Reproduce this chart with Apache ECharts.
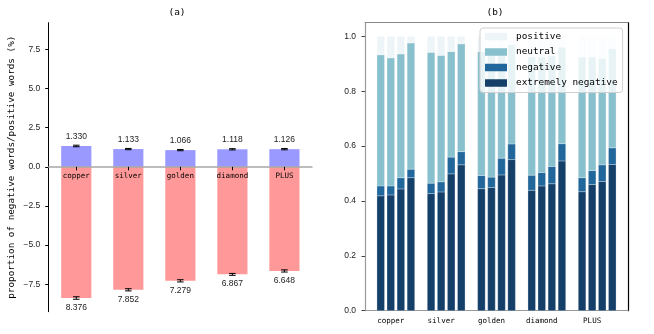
<!DOCTYPE html>
<html>
<head>
<meta charset="utf-8">
<script src="https://cdn.jsdelivr.net/npm/echarts@6/dist/echarts.min.js"></script>
<style>
  html, body { margin: 0; padding: 0; background: #fff; }
  #main { width: 654px; height: 334px; }
</style>
</head>
<body>
<div id="main"></div>
<script>
// categories (member levels)
var levels = ['copper', 'silver', 'golden', 'diamond', 'PLUS'];

// (a) proportion of words, positive above zero, negative below
var posWords = [1.330, 1.133, 1.066, 1.118, 1.126];
var posErr = [0.05, 0.04, 0.04, 0.04, 0.04];
var negWords = [-8.376, -7.852, -7.279, -6.867, -6.648];
var negErr = [0.08, 0.07, 0.07, 0.06, 0.07];
var aTicks = [-7.5, -5, -2.5, 0, 2.5, 5, 7.5];

// (b) share of each sentiment, 4 bars per level
var extremeNeg = [
  [0.419, 0.422, 0.444, 0.485],
  [0.427, 0.433, 0.499, 0.532],
  [0.445, 0.449, 0.495, 0.551],
  [0.439, 0.455, 0.463, 0.546],
  [0.434, 0.460, 0.471, 0.533]
];
var negative = [
  [0.036, 0.033, 0.041, 0.031],
  [0.038, 0.037, 0.061, 0.048],
  [0.048, 0.038, 0.061, 0.057],
  [0.055, 0.049, 0.063, 0.063],
  [0.051, 0.051, 0.061, 0.061]
];
var neutral = [
  [0.478, 0.467, 0.451, 0.460],
  [0.477, 0.461, 0.385, 0.393],
  [0.452, 0.448, 0.384, 0.362],
  [0.431, 0.421, 0.404, 0.352],
  [0.440, 0.414, 0.388, 0.361]
];
var positive = [
  [0.067, 0.078, 0.064, 0.024],
  [0.058, 0.069, 0.055, 0.027],
  [0.055, 0.065, 0.060, 0.030],
  [0.075, 0.075, 0.070, 0.039],
  [0.075, 0.075, 0.080, 0.045]
];
var bTicks = [0, 0.2, 0.4, 0.6, 0.8, 1.0];

var MONO = 'DejaVu Sans Mono';
var SANS = 'Liberation Sans';
var barOffset = [-0.2, 0, 0.2, 0.4];
var halfW = 0.075;

// left panel y range, the x axis sits on zero
var aMin = -9.25, aMax = 9.2, aHeight = 289;
var zeroOffset = -aHeight * (0 - aMin) / (aMax - aMin);

var chart = echarts.init(document.getElementById('main'));

// (a) bar with error bar and value label
function wordBar(color, below) {
  return function (params, api) {
    var x = api.value(0), v = api.value(1), e = api.value(2);
    var p0 = api.coord([x - 0.29, v]);
    var p1 = api.coord([x + 0.29, 0]);
    var cx = api.coord([x, v])[0];
    var yHi = api.coord([x, v + e])[1];
    var yLo = api.coord([x, v - e])[1];
    var capW = 3.3;
    var ly = below ? yLo + 8.5 : yHi - 9;
    return {
      type: 'group',
      children: [
        { type: 'rect', shape: { x: p0[0], y: Math.min(p0[1], p1[1]), width: p1[0] - p0[0], height: Math.abs(p1[1] - p0[1]) },
          style: { fill: color } },
        { type: 'line', shape: { x1: cx, y1: yHi, x2: cx, y2: yLo }, style: { stroke: '#000', lineWidth: 1 } },
        { type: 'line', shape: { x1: cx - capW, y1: yHi, x2: cx + capW, y2: yHi }, style: { stroke: '#000', lineWidth: 1 } },
        { type: 'line', shape: { x1: cx - capW, y1: yLo, x2: cx + capW, y2: yLo }, style: { stroke: '#000', lineWidth: 1 } },
        { type: 'text', style: { text: Math.abs(v).toFixed(3), x: cx, y: ly, align: 'center', verticalAlign: 'middle',
            textAlign: 'center', textVerticalAlign: 'middle', fontFamily: SANS, fontSize: 8.5, fill: '#222' } }
      ]
    };
  };
}

// (b) stacked segment
function segment(params, api) {
  var x = api.value(0), lo = api.value(1), hi = api.value(2);
  var p0 = api.coord([x - halfW, hi]);
  var p1 = api.coord([x + halfW, lo]);
  return {
    type: 'rect',
    shape: { x: p0[0], y: p0[1], width: p1[0] - p0[0], height: p1[1] - p0[1] },
    style: { fill: api.visual('color'), stroke: 'rgba(255,255,255,0.45)', lineWidth: 0.6 }
  };
}

var layers = [
  { name: 'extremely negative', vals: extremeNeg, color: '#133f69' },
  { name: 'negative', vals: negative, color: '#22679b' },
  { name: 'neutral', vals: neutral, color: '#89c0cd' },
  { name: 'positive', vals: positive, color: '#eef5f9' }
];
var base = levels.map(function () { return [0, 0, 0, 0]; });
var stackSeries = layers.map(function (layer) {
  var data = [];
  for (var g = 0; g < levels.length; g++) {
    for (var k = 0; k < 4; k++) {
      var lo = base[g][k];
      var hi = lo + layer.vals[g][k];
      base[g][k] = hi;
      data.push([g + barOffset[k], lo, hi]);
    }
  }
  return {
    name: layer.name,
    type: 'custom',
    xAxisIndex: 1,
    yAxisIndex: 1,
    itemStyle: { color: layer.color },
    renderItem: segment,
    encode: { x: 0, y: [1, 2] },
    data: data
  };
});

var option = {
  animation: false,
  graphic: [
    { type: 'text', x: 177, y: 13, style: { text: '(a)', align: 'center', verticalAlign: 'middle', textAlign: 'center',
        textVerticalAlign: 'middle', fontFamily: MONO, fontSize: 9.5, fill: '#000' } },
    { type: 'text', x: 495, y: 13, style: { text: '(b)', align: 'center', verticalAlign: 'middle', textAlign: 'center',
        textVerticalAlign: 'middle', fontFamily: MONO, fontSize: 9.5, fill: '#000' } }
  ],
  legend: {
    orient: 'vertical',
    left: 480,
    top: 28,
    data: ['positive', 'neutral', 'negative', 'extremely negative'],
    icon: 'rect',
    itemWidth: 22,
    itemHeight: 7.5,
    itemGap: 4.5,
    padding: [3, 5, 4, 5],
    backgroundColor: 'rgba(255,255,255,0.8)',
    borderColor: '#d0d0d0',
    borderWidth: 1,
    borderRadius: 3,
    selectedMode: false,
    textStyle: { fontFamily: MONO, fontSize: 9.4, color: '#000', lineHeight: 11, padding: [0, 0, 0, 4] }
  },
  grid: [
    { left: 48.7, top: 22.7, width: 263.3, height: aHeight },
    { left: 365, top: 22.7, width: 263, height: 288 }
  ],
  xAxis: [
    {
      gridIndex: 0, type: 'value', min: -0.53, max: 4.53, z: 5,
      position: 'bottom', offset: zeroOffset,
      axisLine: { onZero: false, lineStyle: { color: '#a8a8a8', width: 1.5 } },
      axisTick: { show: true, length: 3.5, customValues: [0, 1, 2, 3, 4], lineStyle: { color: '#000' } },
      axisLabel: { customValues: [0, 1, 2, 3, 4], margin: 5.5, fontFamily: MONO, fontSize: 7.5, color: '#000',
        formatter: function (v) { return levels[Math.round(v)]; } },
      splitLine: { show: false }
    },
    {
      gridIndex: 1, type: 'value', min: -0.5125, max: 4.7125, position: 'bottom',
      axisLine: { onZero: false, lineStyle: { color: '#999', width: 1.2 } },
      axisTick: { show: false },
      axisLabel: { customValues: [0, 1, 2, 3, 4], margin: 6, fontFamily: MONO, fontSize: 7.5, color: '#000',
        formatter: function (v) { return levels[Math.round(v)]; } },
      splitLine: { show: false }
    },
    {
      gridIndex: 1, type: 'value', min: -0.5125, max: 4.7125, position: 'top',
      axisLine: { onZero: false, lineStyle: { color: '#888', width: 1 } },
      axisTick: { show: false }, axisLabel: { show: false }, splitLine: { show: false }
    }
  ],
  yAxis: [
    {
      gridIndex: 0, type: 'value', min: aMin, max: aMax,
      name: 'proportion of negative words/positive words (%)',
      nameLocation: 'middle', nameGap: 33, nameRotate: 90,
      nameTextStyle: { fontFamily: MONO, fontSize: 9.3, color: '#000' },
      axisLine: { show: true, onZero: false, lineStyle: { color: '#000', width: 1 } },
      axisTick: { show: true, length: 3.5, customValues: aTicks, lineStyle: { color: '#000' } },
      axisLabel: { customValues: aTicks, margin: 8.5, fontFamily: SANS, fontSize: 8.5, color: '#222',
        formatter: function (v) { return v.toFixed(1).replace('-', '\u2212'); } },
      splitLine: { show: false }
    },
    {
      gridIndex: 1, type: 'value', min: 0, max: 1.05,
      axisLine: { show: true, onZero: false, lineStyle: { color: '#999', width: 1.2 } },
      axisTick: { show: true, length: 3.5, customValues: bTicks, lineStyle: { color: '#444' } },
      axisLabel: { customValues: bTicks, margin: 9, fontFamily: SANS, fontSize: 8.5, color: '#222',
        formatter: function (v) { return v.toFixed(1); } },
      splitLine: { show: false }
    },
    {
      gridIndex: 1, type: 'value', min: 0, max: 1.05, position: 'right',
      axisLine: { show: true, onZero: false, lineStyle: { color: '#000', width: 1.2 } },
      axisTick: { show: false }, axisLabel: { show: false }, splitLine: { show: false }
    }
  ],
  series: [
    {
      name: 'positive words', type: 'custom', xAxisIndex: 0, yAxisIndex: 0,
      renderItem: wordBar('#9999ff', false),
      encode: { x: 0, y: 1 },
      data: levels.map(function (c, i) { return [i, posWords[i], posErr[i]]; })
    },
    {
      name: 'negative words', type: 'custom', xAxisIndex: 0, yAxisIndex: 0,
      renderItem: wordBar('#ff9999', true),
      encode: { x: 0, y: 1 },
      data: levels.map(function (c, i) { return [i, negWords[i], negErr[i]]; })
    }
  ].concat(stackSeries)
};

chart.setOption(option);
</script>
</body>
</html>
